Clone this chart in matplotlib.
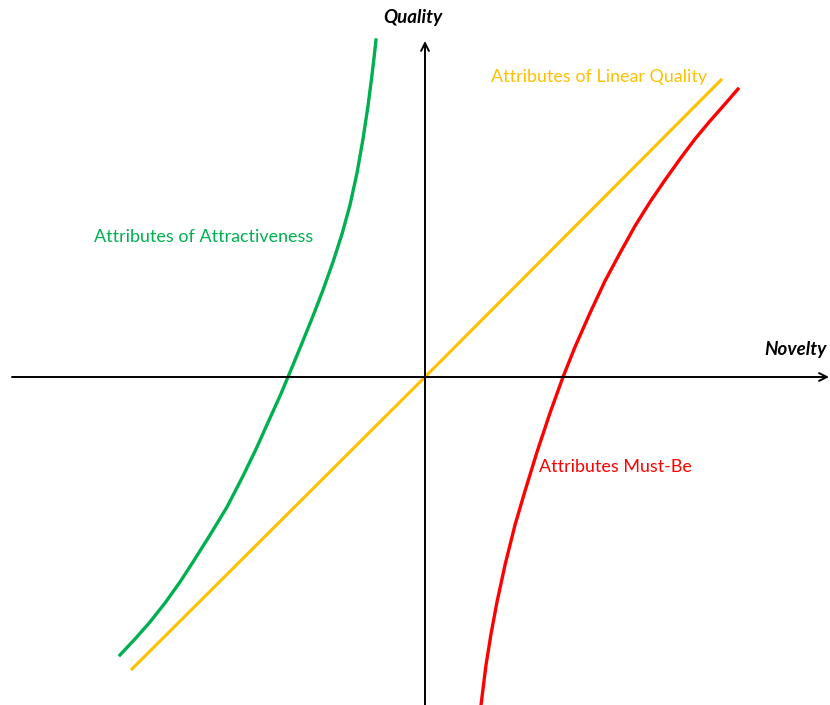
import matplotlib.pyplot as plt

# Kano model curves (origin at the axes crossing)
attract_x = [-305, -290, -275, -260, -245, -232, -215, -198, -182, -168, -155, -145, -137,
             -125, -112, -102, -92, -83, -75, -68, -62, -57, -53, -51, -49]
attract_y = [-278, -262, -245, -226, -205, -185, -158, -130, -99, -70, -41, -19, 0,
             29, 61, 87, 115, 143, 172, 204, 238, 271, 302, 319, 337]

linear_x = [-293, 0, 296]
linear_y = [-292, 0, 297]

mustbe_x = [56, 57, 61, 66, 72, 80, 90, 100, 112, 125, 138,
            150, 165, 180, 195, 210, 225, 240, 255, 270, 285, 300, 313]
mustbe_y = [-328, -320, -288, -257, -225, -188, -148, -114, -75, -36, 0,
            30, 64, 96, 124, 151, 175, 197, 218, 238, 256, 273, 288]

labels = ['Attributes of Attractiveness', 'Attributes of Linear Quality', 'Attributes Must-Be']
label_x = [-331, 66, 114]
label_y = [140, 300, -90]

green = '#00B050'
yellow = '#FFC000'
red = '#FF0000'

plt.rcParams['font.family'] = ['Lato', 'DejaVu Sans']

fig = plt.figure(figsize=(8.3, 7.05), dpi=100)
ax = fig.add_axes([0, 0, 1, 1])
ax.set_xlim(-425, 405)
ax.set_ylim(-328, 377)
ax.axis('off')

# axes with arrows
ax.annotate('', xy=(404, 0), xytext=(-413, 0), annotation_clip=False,
            arrowprops=dict(arrowstyle='->', color='black', lw=1.4, mutation_scale=14,
                            shrinkA=0, shrinkB=0))
ax.annotate('', xy=(0, 336), xytext=(0, -330), annotation_clip=False,
            arrowprops=dict(arrowstyle='->', color='black', lw=1.4, mutation_scale=14,
                            shrinkA=0, shrinkB=0))

ax.plot(attract_x, attract_y, color=green, lw=2.4, solid_joinstyle='round')
ax.plot(linear_x, linear_y, color=yellow, lw=2.2)
ax.plot(mustbe_x, mustbe_y, color=red, lw=2.4, solid_joinstyle='round')

for txt, x, y, c in zip(labels, label_x, label_y, [green, yellow, red]):
    ax.text(x, y, txt, color=c, fontsize=12.9, ha='left', va='center')

ax.text(-12, 359, 'Quality', fontsize=13.5, fontweight='bold', fontstyle='italic',
        ha='center', va='center')
ax.text(370, 28, 'Novelty', fontsize=13.5, fontweight='bold', fontstyle='italic',
        ha='center', va='center')

fig.savefig('out.png', dpi=100)
